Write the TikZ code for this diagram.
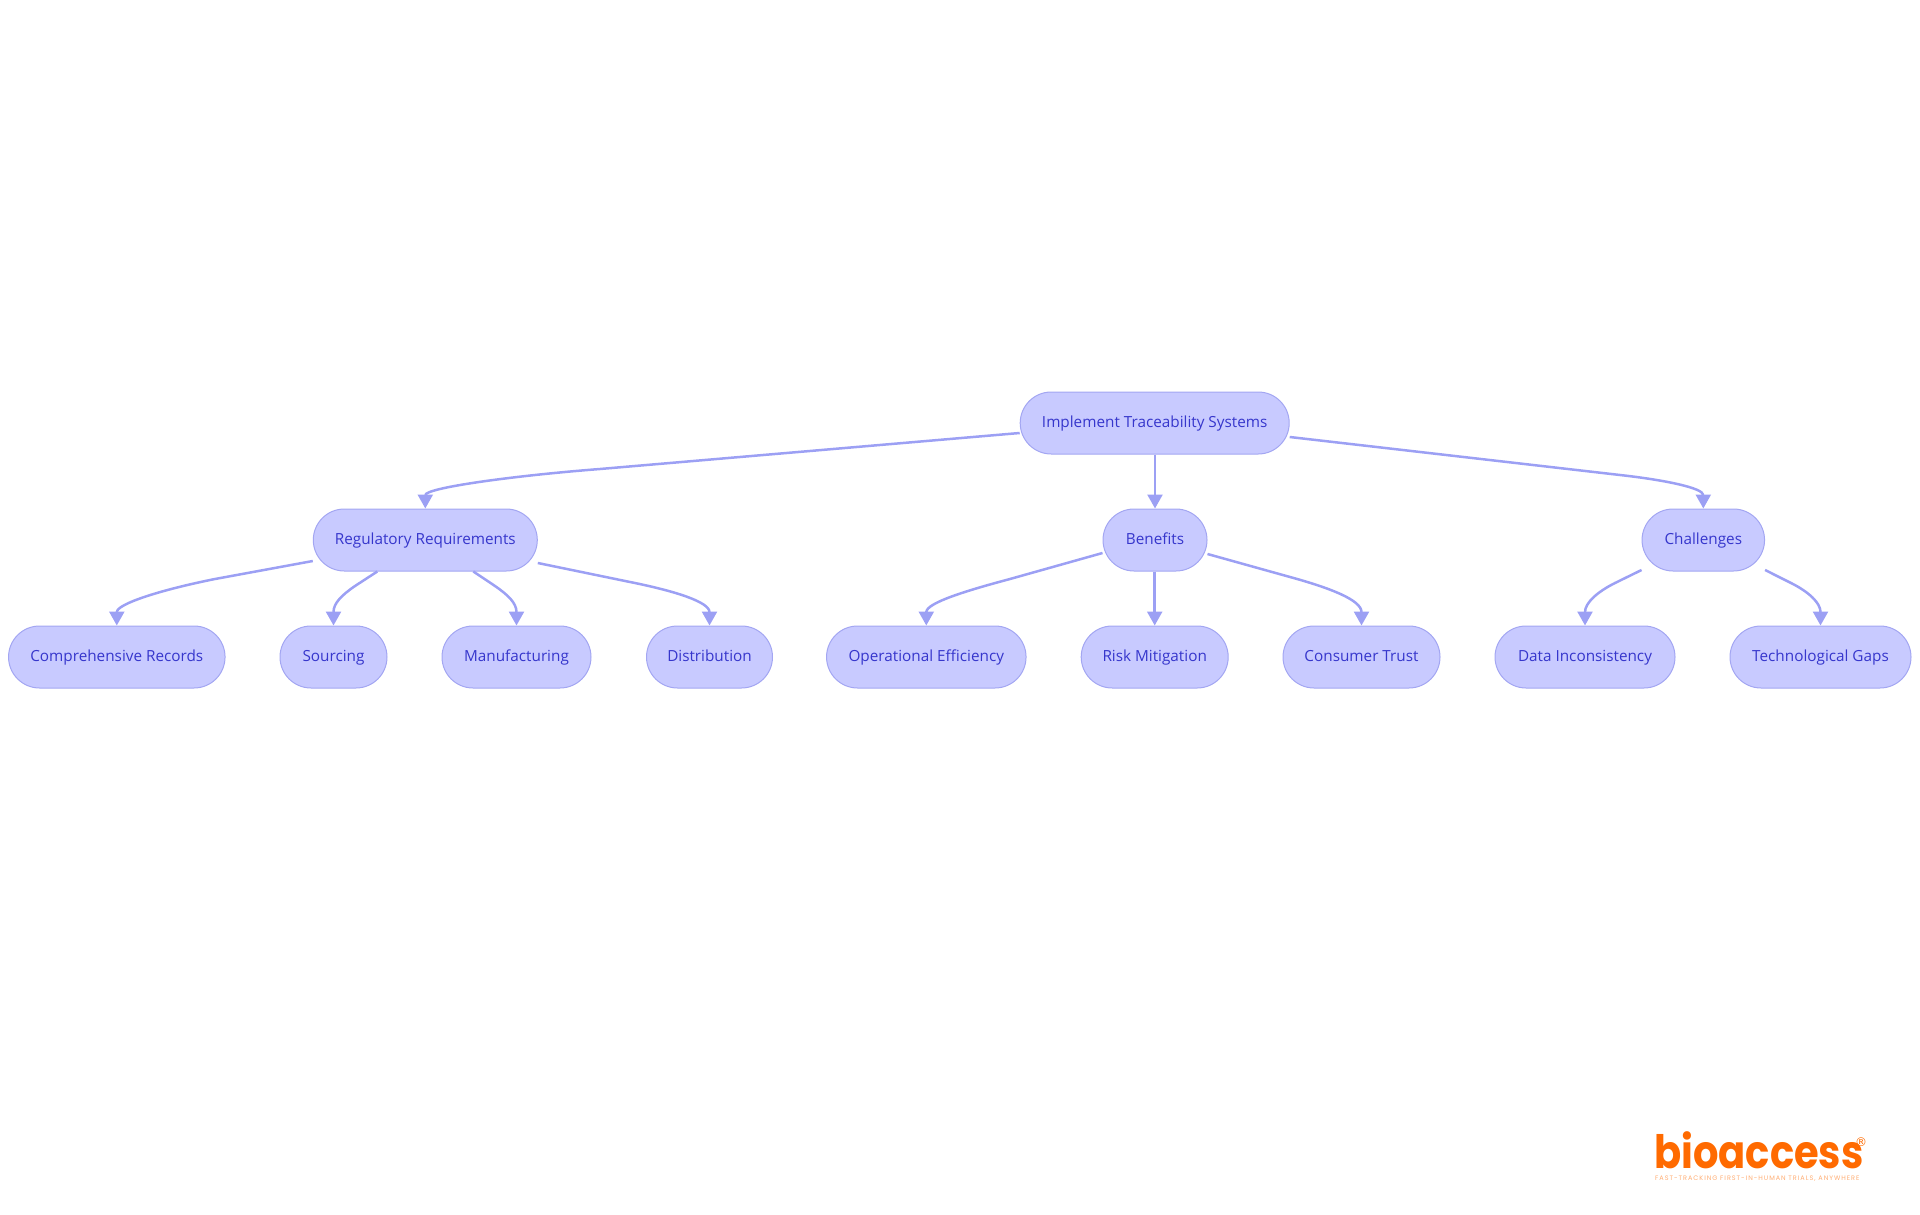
\documentclass[tikz,border=0pt]{standalone}
\usepackage{fontspec}
\setmainfont{Open Sans}
\newfontfamily\logofont{Poppins}
\newfontfamily\markfont{DejaVu Sans}
\usetikzlibrary{arrows.meta,calc}
\definecolor{nodefill}{HTML}{C8CAFF}
\definecolor{nodeline}{HTML}{A3A6F2}
\definecolor{edgeline}{HTML}{9CA0F4}
\definecolor{nodetext}{HTML}{3636CC}
\definecolor{logoorange}{HTML}{FF6A00}
\tikzset{
  box/.style={draw=nodeline,fill=nodefill,line width=1pt,rounded corners=31pt,minimum height=62pt,inner sep=0pt,text=nodetext,text height=12pt,text depth=3pt,font=\fontsize{15.3}{18}\selectfont},
  edge/.style={draw=edgeline,line width=2.5pt,-{Triangle[width=15pt,length=14pt,fill=edgeline]}}
}
\newcommand{\bx}[4]{\node[box,minimum width=#3 pt] (#1) at (#2) {#4};}
\begin{document}
\begin{tikzpicture}[x=1pt,y=-1pt]
\useasboundingbox (0,0) rectangle (1920,1215);
\bx{root}{1154.7,423}{269}{Implement Traceability Systems}
\bx{reg}{425.3,540}{224}{Regulatory Requirements}
\bx{ben}{1155,540}{104}{Benefits}
\bx{cha}{1703.3,540}{122.5}{Challenges}
\bx{rec}{116.8,657}{216.5}{Comprehensive Records}
\bx{sou}{333.5,657}{107}{Sourcing}
\bx{man}{516.5,657}{149}{Manufacturing}
\bx{dis}{709.5,657}{126}{Distribution}
\bx{ope}{926.3,657}{199.5}{Operational Efficiency}
\bx{ris}{1154.7,657}{147}{Risk Mitigation}
\bx{con}{1361.5,657}{157}{Consumer Trust}
\bx{dat}{1585,657}{180}{Data Inconsistency}
\bx{tec}{1820.5,657}{181}{Technological Gaps}
\draw[edge] ($(root.west)+(0,10)$) -- (600,469) .. controls (510,476) and (425.3,488) .. (reg.north);
\draw[edge] (root.south -| ben.north) -- (ben.north);
\draw[edge] ($(root.east)+(0,14)$) -- (1620,475) .. controls (1665,480) and (1703.3,488) .. (cha.north);
\draw[edge] ($(reg.west)+(0,21)$) -- (215,579) .. controls (160,590) and (116.8,604) .. (rec.north);
\draw[edge] ($(reg.south)+(-48,0)$) -- (355,586) .. controls (342,595) and (333.5,603) .. (sou.north);
\draw[edge] ($(reg.south)+(48,0)$) -- (495,586) .. controls (508,595) and (516.5,603) .. (man.north);
\draw[edge] ($(reg.east)+(0,23)$) -- (630,582) .. controls (675,591) and (709.5,602) .. (dis.north);
\draw[edge] ($(ben.west)+(0,13)$) -- (1010,579) .. controls (965,591) and (926.3,603) .. (ope.north);
\draw[edge] (ben.south -| ris.north) -- (ris.north);
\draw[edge] ($(ben.east)+(0,14)$) -- (1290,577) .. controls (1330,588) and (1361.5,600) .. (con.north);
\draw[edge] ($(cha.west)+(0,30)$) -- (1615,583) .. controls (1597,592) and (1585,603) .. (dat.north);
\draw[edge] ($(cha.east)+(0,30)$) -- (1791,583) .. controls (1809,592) and (1820.5,603) .. (tec.north);
\node[anchor=base west,inner sep=0pt,text=logoorange,font=\logofont\bfseries\fontsize{46}{52}\selectfont] (logo) at (1654,1168) {\scalebox{0.87}[1]{bioaccess}};
\node[anchor=center,inner sep=0pt,text=logoorange,font=\markfont\fontsize{12}{14}\selectfont] (regmark) at (1861,1142) {®};
\node[anchor=base west,inner sep=0pt,text=logoorange!55,font=\logofont\fontsize{6.5}{8}\selectfont\addfontfeature{LetterSpace=15}] (tag) at (1655,1180) {FAST-TRACKING FIRST-IN-HUMAN TRIALS, ANYWHERE};
\end{tikzpicture}
\end{document}
